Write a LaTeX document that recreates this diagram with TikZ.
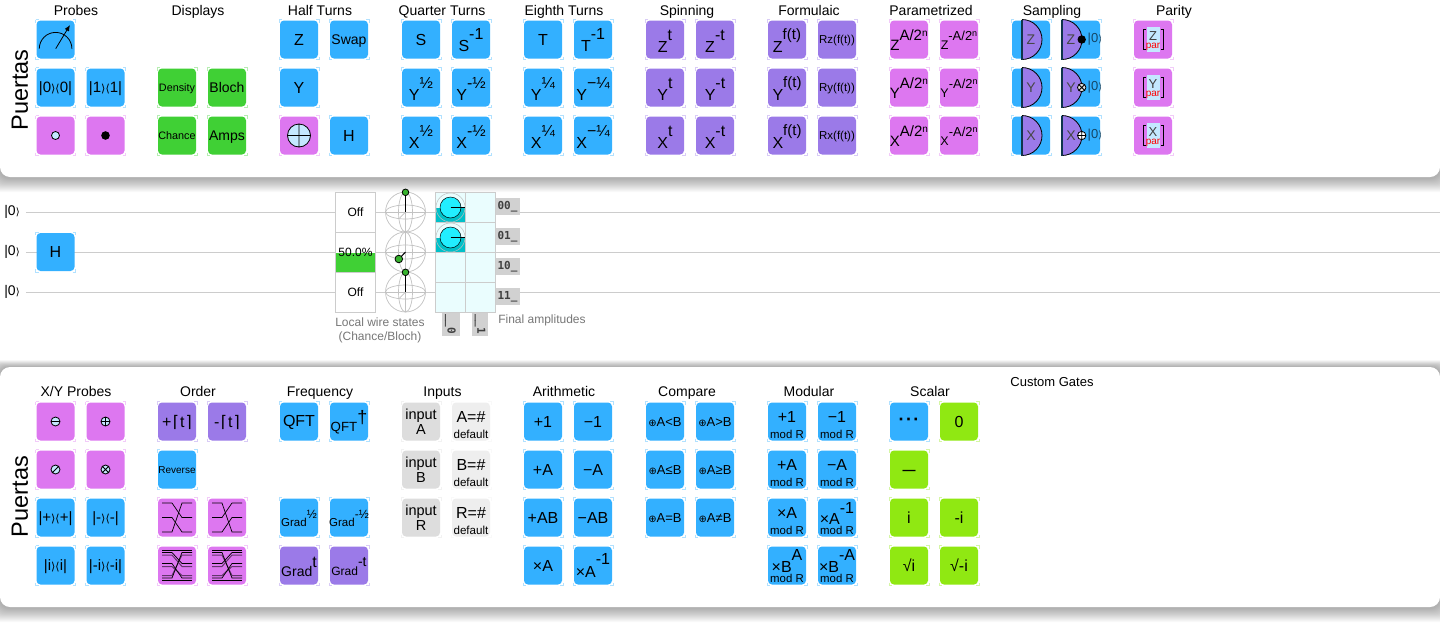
\documentclass[tikz,border=0pt]{standalone}
\usepackage{fontspec}
\setmainfont{Liberation Sans}
\newfontfamily\djv{DejaVu Sans}
\newfontfamily\djm{DejaVu Sans Mono}
\usetikzlibrary{arrows.meta}
\definecolor{gblue}{HTML}{33B0FF}
\definecolor{gmag}{HTML}{DD77F0}
\definecolor{gpur}{HTML}{9B7AE8}
\definecolor{ggrn}{HTML}{40D035}
\definecolor{glime}{HTML}{90E812}
\definecolor{ginA}{HTML}{DDDDDD}
\definecolor{ginB}{HTML}{EEEEEE}
\definecolor{ctl}{HTML}{C4E8FF}
\definecolor{wire}{HTML}{CCCCCC}
\definecolor{note}{HTML}{777777}
\definecolor{amp}{HTML}{EAFDFE}
\definecolor{teal}{HTML}{00C0C8}
\definecolor{cyn}{HTML}{22EEFF}
\newcommand\fs[1]{\fontsize{#1pt}{#1pt}\selectfont}
% centred text: size, baseline offset below centre, text
\newcommand\T[3]{\makebox[0pt][c]{\raisebox{-#2pt}[0pt][0pt]{\fs{#1}#3}}}
% base with superscript: basesize, base, supsize, sup, raise, baseline offset
\newcommand\SP[6]{\makebox[0pt][c]{\raisebox{-#6pt}[0pt][0pt]{\fs{#1}#2\raisebox{#5pt}{\fs{#3}#4}}}}
\newcommand\kt{{\djv\fs{11}⟩}}
\newcommand\br{{\djv\fs{11}⟨}}
\newcommand\oplusg{{\djv\fs{10}⊕}}
\newcommand\lc{{\djv\fs{16}\kern1.5pt⌈\kern1pt}}
\newcommand\rc{{\djv\fs{16}\kern1pt⌉}}
\tikzset{
  gatebox/.style={minimum size=38pt,inner sep=0pt,rounded corners=4pt,outer sep=0pt},
  gatetick/.style={line width=1pt,dash pattern=on 6pt off 34pt,dash phase=3pt},
  head/.style={anchor=base,font=\fs{14},inner sep=0pt},
  title/.style={rotate=90,font=\fs{23.5},inner sep=0pt},
  note/.style={font=\fs{12},text=note,inner sep=0pt,align=center},
  ctlc/.style={draw=black,fill=ctl,line width=.8pt},
  thinb/.style={line width=.7pt,draw=black},
  sph/.style={draw=black!24,line width=.7pt},
  cellb/.style={draw=wire,line width=.8pt,fill=white,minimum size=40pt,inner sep=0pt,font=\fs{12}},
  ampb/.style={draw=wire,line width=.8pt,fill=amp,minimum size=30pt,inner sep=0pt},
  lbl/.style={fill=black!18,inner sep=0pt,font=\djm\bfseries\fs{11},text=black!75},
  qlabel/.style={inner ysep=0pt,inner xsep=6pt,font=\fs{14}},
}
\newcommand\gate[5]{%
  \node[gatebox,fill=#4] (#1) at (#2,#3) {#5};
  \draw[gatetick,draw=#4!38!white] (#2-20,#3-20) rectangle (#2+20,#3+20);
}
% interleave wires
\newcommand\ilv[7]{% cx cy mirror(1/-1) y1 y2 y3 style
  \begin{scope}[shift={(#1,#2)},xscale=#3,thinb,#7]
    \draw (-15,#4) -- (-5,#4) -- (5,#5) -- (15,#5);
    \draw (-15,#5) -- (-5,#5) -- (5,#6) -- (15,#6);
    \draw (-15,#6) -- (-5,#6) -- (5,#4) -- (15,#4);
  \end{scope}}
\newcommand\samp[4]{% name cx cy letter
  \gate{#1}{#2}{#3}{gblue}{}
  \fill[gpur] (#2-9,#3-20) arc (-90:90:20) -- cycle;
  \draw[line width=.8pt] (#2-9,#3-20) arc (-90:90:20);
  \draw[line width=1.6pt,draw=black!70!gblue] (#2-9,#3-20) -- (#2-9,#3+20);
  \node[inner sep=0pt,font=\fs{14},text=black!72] (#1t) at (#2,#3) {#4};
}
\newcommand\sampb[4]{% name cx cy letter
  \gate{#1}{#2}{#3}{gblue}{}
  \fill[gpur] (#2-19,#3-20) arc (-90:90:20) -- cycle;
  \draw[line width=.8pt] (#2-19,#3-20) arc (-90:90:20);
  \draw[line width=1.6pt,draw=black!70!gblue] (#2-19,#3-20) -- (#2-19,#3+20);
  \node[inner sep=0pt,font=\fs{14},text=black!72] (#1t) at (#2-10,#3) {#4};
  \begin{scope}
    \clip (#2-19,#3-20) rectangle (#2+19.5,#3+20);
    \node[anchor=west,inner sep=0pt,font=\fs{13},text=black!60!gblue] (#1z) at (#2+6.5,#3) {|0{\djv\fs{10}⟩}};
  \end{scope}
}
\newcommand\parity[4]{% name cx cy letter
  \gate{#1}{#2}{#3}{gmag}{}
  \fill[ctl] (#2-6.5,#3-13) rectangle (#2+7,#3+12.5);
  \draw[line width=.9pt] (#2-7,#3-10) -- (#2-10,#3-10) -- (#2-10,#3+10) -- (#2-7,#3+10);
  \draw[line width=.9pt] (#2+7.5,#3-10) -- (#2+10.5,#3-10) -- (#2+10.5,#3+10) -- (#2+7.5,#3+10);
  \node[inner sep=0pt] (#1t) at (#2,#3) {\T{13}{1}{\color{black!75}#4}\T{10}{8.7}{\color{red}par}};
}
\newcommand\bloch[1]{% cy
  \begin{scope}[shift={(405.5,#1)}]
    \draw[sph] (0,0) circle (20);
    \draw[sph] (0,0) ellipse [x radius=20,y radius=7];
    \draw[sph] (0,0) ellipse [x radius=7,y radius=20];
    \draw[sph] (-20,0) -- (20,0);
    \draw[sph] (0,-20) -- (0,20);
    \draw[sph] (-6,6) -- (0,0);
  \end{scope}}
\newcommand\ampcirc[1]{% cy
  \begin{scope}[shift={(450.5,#1)}]
    \fill[teal] (-15,0) rectangle (15,15);
    \draw[draw=black!25,line width=.5pt] (0,0) circle (14.5);
    \fill[cyn] (0,0) circle (10.5);
    \draw[black,line width=.5pt] (0,0) circle (10.5);
    \draw[black,line width=.8pt] (0,0) -- (15,0);
  \end{scope}}
\begin{document}
\begin{tikzpicture}[x=1pt,y=-1pt]
\useasboundingbox (0,0) rectangle (1440,627);
\clip (0,0) rectangle (1440,627);
\fill[white] (0,0) rectangle (1440,627);
% shadows and panels
\foreach \d in {14,13,...,1}{
  \fill[black,opacity=.022,rounded corners=10pt] (-\d,-30) rectangle (1440+\d,177+\d+1);
  \fill[black,opacity=.022,rounded corners=10pt] (-\d,367-\d*.5) rectangle (1440+\d,607+\d+1);
}
\fill[white,rounded corners=10pt] (0,-30) rectangle (1440,177);
\fill[white,rounded corners=10pt] (0,367) rectangle (1440,607);

% ---------- circuit
\node[qlabel] (q1) at (12,212) {|0{\djv\fs{10}⟩}};
\node[qlabel] (q2) at (12,252) {|0{\djv\fs{10}⟩}};
\node[qlabel] (q3) at (12,292) {|0{\djv\fs{10}⟩}};
\coordinate (e1) at (1440,212);
\coordinate (e2) at (1440,252);
\coordinate (e3) at (1440,292);
\draw[wire,line width=.8pt] (q1) -- (e1);
\draw[wire,line width=.8pt] (q2) -- (e2);
\draw[wire,line width=.8pt] (q3) -- (e3);
\gate{hc}{55.5}{252}{gblue}{\T{16}{5.7}{H}}
% chance
\node[cellb] (c1) at (355.5,212.3) {\T{12}{4.3}{Off}};
\node[cellb] (c2) at (355.5,252.3) {};
\node[cellb] (c3) at (355.5,292.3) {\T{12}{4.3}{Off}};
\fill[ggrn] (336,252.7) rectangle (375,271.9);
\node[inner sep=0pt,font=\fs{12}] (c2t) at (355.5,252) {50.0\%};
% bloch
\bloch{212}\bloch{252}\bloch{292}
\draw[line width=1.6pt] (405.5,212) -- (405.5,192);
\draw[line width=.8pt,fill=ggrn!85!black] (405.5,192.3) circle (3.3);
\draw[line width=1pt] (405.5,252) -- (399,259);
\draw[line width=.8pt,fill=ggrn!85!black] (398.8,259) circle (3.8);
\draw[line width=1.6pt] (405.5,292) -- (405.5,272);
\draw[line width=.8pt,fill=ggrn!85!black] (405.5,272.3) circle (3.3);
% amplitudes
\foreach \r/\y in {0/207.5,1/237.5,2/267.5,3/297.5}{
  \node[ampb] (a\r0) at (450.5,\y) {};
  \node[ampb] (a\r1) at (480.5,\y) {};
}
\ampcirc{207.5}\ampcirc{237.5}
\draw[wire,line width=.8pt] (435.5,192.5) rectangle (495.5,312.5);
\draw[wire,line width=.8pt] (435.5,222.5) -- (495.5,222.5) (435.5,252.5) -- (495.5,252.5) (435.5,282.5) -- (495.5,282.5) (465.5,192.5) -- (465.5,312.5);
\foreach \n/\y/\t in {r0/206.5/00,r1/236.5/01,r2/266.5/10,r3/296.5/11}{
  \node[lbl,minimum width=24pt,minimum height=17.5pt] (\n) at (507.5,\y) {\t\_};
}
\node[lbl,rotate=-90,minimum width=23pt,minimum height=18pt] (k0) at (450.5,324.2) {\_\_0};
\node[lbl,rotate=-90,minimum width=23pt,minimum height=16pt] (k1) at (480,324.2) {\_\_1};
\node[note] (n1) at (380,330) {Local wire states\\[2pt](Chance/Bloch)};
\node[note] (n2) at (542,320.7) {Final amplitudes};

% ---------- top toolbox
\node[title] (p1) at (20,90) {Puertas};
\node[head] (h1) at (76,15) {Probes};
\node[head] (h2) at (198,15) {Displays};
\node[head] (h3) at (320,15) {Half Turns};
\node[head] (h4) at (442,15) {Quarter Turns};
\node[head] (h5) at (564,15) {Eighth Turns};
\node[head] (h6) at (687,15) {Spinning};
\node[head] (h7) at (809,15) {Formulaic};
\node[head] (h8) at (931,15) {Parametrized};
\node[head] (h9) at (1052,15) {Sampling};
\node[head] (h10) at (1174,15) {Parity};

\gate{meas}{55.5}{39.5}{gblue}{}
\draw[line width=.8pt] (39.3,48.7) arc (180:360:16.3);
\draw[line width=.8pt,-{Latex[length=6pt,width=5pt]}] (55.7,48.7) -- (70,25);
\gate{p0}{55.5}{87.5}{gblue}{\T{15}{5.3}{|0\kt\br 0|}}
\gate{p1g}{105.5}{87.5}{gblue}{\T{15}{5.3}{|1\kt\br 1|}}
\gate{ctlo}{55.5}{135.5}{gmag}{}
\draw[ctlc] (55.5,135.5) circle (4);
\gate{ctlb}{105.5}{135.5}{gmag}{}
\fill[black] (105.5,135.5) circle (4.3);

\gate{dDen}{177}{87.5}{ggrn}{\T{10.8}{3.8}{Density}}
\gate{dBlo}{227}{87.5}{ggrn}{\T{14}{5}{Bloch}}
\gate{dCha}{177}{135.5}{ggrn}{\T{10.8}{3.8}{Chance}}
\gate{dAmp}{227}{135.5}{ggrn}{\T{14}{5}{Amps}}

\gate{hZ}{299}{39.5}{gblue}{\T{16}{5.7}{Z}}
\gate{hS}{349}{39.5}{gblue}{\T{14}{5}{Swap}}
\gate{hY}{299}{87.5}{gblue}{\T{16}{5.7}{Y}}
\gate{hX}{299}{135.5}{gmag}{}
\draw[ctlc] (299,135.5) circle (11.5) (287.5,135.5) -- (310.5,135.5) (299,124) -- (299,147);
\gate{hH}{349}{135.5}{gblue}{\T{16}{5.7}{H}}

\gate{qS}{421}{39.5}{gblue}{\T{16}{5.7}{S}}
\gate{qSi}{471}{39.5}{gblue}{\SP{16}{S}{16}{-1}{11.7}{12}}
\gate{qY}{421}{87.5}{gblue}{\SP{16}{Y}{16}{½}{11.7}{12.5}}
\gate{qYi}{471}{87.5}{gblue}{\SP{16}{Y}{16}{-½}{11.7}{12.5}}
\gate{qX}{421}{135.5}{gblue}{\SP{16}{X}{16}{½}{11.7}{12.5}}
\gate{qXi}{471}{135.5}{gblue}{\SP{16}{X}{16}{-½}{11.7}{12.5}}

\gate{eT}{543}{39.5}{gblue}{\T{16}{5.7}{T}}
\gate{eTi}{593}{39.5}{gblue}{\SP{16}{T}{16}{-1}{11.7}{12}}
\gate{eY}{543}{87.5}{gblue}{\SP{16}{Y}{16}{¼}{11.7}{12.5}}
\gate{eYi}{593}{87.5}{gblue}{\SP{16}{Y}{16}{−¼}{11.7}{12.5}}
\gate{eX}{543}{135.5}{gblue}{\SP{16}{X}{16}{¼}{11.7}{12.5}}
\gate{eXi}{593}{135.5}{gblue}{\SP{16}{X}{16}{−¼}{11.7}{12.5}}

\gate{sZ}{665}{39.5}{gpur}{\SP{16}{Z}{16}{t}{12}{12.5}}
\gate{sZi}{715}{39.5}{gpur}{\SP{16}{Z}{16}{-t}{12}{12.5}}
\gate{sY}{665}{87.5}{gpur}{\SP{16}{Y}{16}{t}{12}{12.5}}
\gate{sYi}{715}{87.5}{gpur}{\SP{16}{Y}{16}{-t}{12}{12.5}}
\gate{sX}{665}{135.5}{gpur}{\SP{16}{X}{16}{t}{12}{12.5}}
\gate{sXi}{715}{135.5}{gpur}{\SP{16}{X}{16}{-t}{12}{12.5}}

\gate{fZ}{787}{39.5}{gpur}{\SP{16}{Z}{15}{f(t)}{13}{12.5}}
\gate{fRz}{837}{39.5}{gpur}{\T{11.5}{4}{Rz(f(t))}}
\gate{fY}{787}{87.5}{gpur}{\SP{16}{Y}{15}{f(t)}{13}{12.5}}
\gate{fRy}{837}{87.5}{gpur}{\T{11.5}{4}{Ry(f(t))}}
\gate{fX}{787}{135.5}{gpur}{\SP{16}{X}{15}{f(t)}{13}{12.5}}
\gate{fRx}{837}{135.5}{gpur}{\T{11.5}{4}{Rx(f(t))}}

\gate{aZ}{909}{39.5}{gmag}{\SP{15}{Z}{15}{A/2\raisebox{4pt}{\fs{10}n}}{10}{10.5}}
\gate{aZi}{959}{39.5}{gmag}{\SP{12.5}{Z}{13}{-A/2\raisebox{4pt}{\fs{9}n}}{9.3}{9.8}}
\gate{aY}{909}{87.5}{gmag}{\SP{15}{Y}{15}{A/2\raisebox{4pt}{\fs{10}n}}{10}{10.5}}
\gate{aYi}{959}{87.5}{gmag}{\SP{12.5}{Y}{13}{-A/2\raisebox{4pt}{\fs{9}n}}{9.3}{9.8}}
\gate{aX}{909}{135.5}{gmag}{\SP{15}{X}{15}{A/2\raisebox{4pt}{\fs{10}n}}{10}{10.5}}
\gate{aXi}{959}{135.5}{gmag}{\SP{12.5}{X}{13}{-A/2\raisebox{4pt}{\fs{9}n}}{9.3}{9.8}}

\samp{mZ}{1031}{39.5}{Z}
\sampb{mZb}{1081}{39.5}{Z}
\fill[black] (1081.7,39.5) circle (4.2);
\samp{mY}{1031}{87.5}{Y}
\sampb{mYb}{1081}{87.5}{Y}
\draw[ctlc,fill=black!12] (1081.7,87.5) circle (4.2) (1078.8,84.6) -- (1084.6,90.4) (1078.8,90.4) -- (1084.6,84.6);
\samp{mX}{1031}{135.5}{X}
\sampb{mXb}{1081}{135.5}{X}
\draw[ctlc,fill=white] (1081.7,135.5) circle (4.2) (1077.5,135.5) -- (1085.9,135.5) (1081.7,131.3) -- (1081.7,139.7);

\parity{rZ}{1153}{39.5}{Z}
\parity{rY}{1153}{87.5}{Y}
\parity{rX}{1153}{135.5}{X}

% ---------- bottom toolbox
\node[title] (p2) at (20,496.5) {Puertas};
\node[head] (b1) at (76,396.7) {X/Y Probes};
\node[head] (b2) at (198,396.7) {Order};
\node[head] (b3) at (320,396.7) {Frequency};
\node[head] (b4) at (442.5,396.7) {Inputs};
\node[head] (b5) at (564,396.7) {Arithmetic};
\node[head] (b6) at (687,396.7) {Compare};
\node[head] (b7) at (809,396.7) {Modular};
\node[head] (b8) at (930,396.7) {Scalar};
\node[head,font=\fs{13}] (b9) at (1052,386.7) {Custom Gates};

\gate{xm}{55.5}{421.5}{gmag}{}
\draw[ctlc] (55.5,421.5) circle (4.5) (51,421.5) -- (60,421.5);
\gate{xp}{105.5}{421.5}{gmag}{}
\draw[ctlc] (105.5,421.5) circle (4.5) (101,421.5) -- (110,421.5) (105.5,417) -- (105.5,426);
\gate{ys}{55.5}{469.5}{gmag}{}
\draw[ctlc] (55.5,469.5) circle (4.5) (52.3,472.7) -- (58.7,466.3);
\gate{yx}{105.5}{469.5}{gmag}{}
\draw[ctlc] (105.5,469.5) circle (4.5) (102.3,466.3) -- (108.7,472.7) (102.3,472.7) -- (108.7,466.3);
\gate{kp}{55.5}{517.5}{gblue}{\T{15}{5.3}{|+\kt\br +|}}
\gate{km}{105.5}{517.5}{gblue}{\T{15}{5.3}{|-\kt\br -|}}
\gate{ki}{55.5}{565.5}{gblue}{\T{15}{5.3}{|i\kt\br i|}}
\gate{kn}{105.5}{565.5}{gblue}{\T{15}{5.3}{|-i\kt\br -i|}}

\gate{oA}{177}{421.5}{gpur}{\T{16}{5.7}{+\lc t\rc}}
\gate{oB}{227}{421.5}{gpur}{\T{16}{5.7}{-\lc t\rc}}
\gate{oR}{177}{469.5}{gblue}{\T{10}{3.5}{Reverse}}
\gate{iA}{177}{517.5}{gmag}{}
\ilv{177}{517.5}{1}{-14.5}{0}{14.5}{}
\gate{iB}{227}{517.5}{gmag}{}
\ilv{227}{517.5}{-1}{-14.5}{0}{14.5}{}
\gate{iC}{177}{565.5}{gmag}{}
\draw[thinb] (162,550.5) -- (192,550.5) (162,580.5) -- (192,580.5);
\ilv{177}{565.5}{1}{-10.5}{1}{10}{line width=1pt,draw=black!55!gmag}
\ilv{177}{565.5}{1}{-13}{-2}{12.5}{}
\gate{iD}{227}{565.5}{gmag}{}
\draw[thinb] (212,550.5) -- (242,550.5) (212,580.5) -- (242,580.5);
\ilv{227}{565.5}{-1}{-10.5}{1}{10}{line width=1pt,draw=black!55!gmag}
\ilv{227}{565.5}{-1}{-13}{-2}{12.5}{}

\gate{fq}{299}{421.5}{gblue}{\T{16}{5.3}{QFT}}
\gate{fqi}{349}{421.5}{gblue}{\SP{13.3}{QFT}{18}{†}{8}{10}}
\gate{gh}{299}{517.5}{gblue}{\SP{11.5}{Grad}{12}{½}{7.3}{8.7}}
\gate{ghi}{349}{517.5}{gblue}{\SP{11.5}{Grad}{12}{-½}{7.3}{8.7}}
\gate{gt}{299}{565.5}{gpur}{\SP{14}{Grad}{16}{t}{9}{10.7}}
\gate{gti}{349}{565.5}{gpur}{\SP{12}{Grad}{14}{-t}{9}{9.7}}

\gate{inA}{421}{421.5}{ginA}{\T{14.5}{-1.7}{input}\T{14.5}{13}{A}}
\gate{deA}{471}{421.5}{ginB}{\T{16}{1}{A=\#}\T{11.6}{16.5}{default}}
\gate{inB}{421}{469.5}{ginA}{\T{14.5}{-1.7}{input}\T{14.5}{13}{B}}
\gate{deB}{471}{469.5}{ginB}{\T{16}{1}{B=\#}\T{11.6}{16.5}{default}}
\gate{inR}{421}{517.5}{ginA}{\T{14.5}{-1.7}{input}\T{14.5}{13}{R}}
\gate{deR}{471}{517.5}{ginB}{\T{16}{1}{R=\#}\T{11.6}{16.5}{default}}

\gate{a1}{543}{421.5}{gblue}{\T{16}{5.7}{+1}}
\gate{a2}{593}{421.5}{gblue}{\T{16}{5.7}{−1}}
\gate{a3}{543}{469.5}{gblue}{\T{16}{5.7}{+A}}
\gate{a4}{593}{469.5}{gblue}{\T{16}{5.7}{−A}}
\gate{a5}{543}{517.5}{gblue}{\T{16}{5.7}{+AB}}
\gate{a6}{593}{517.5}{gblue}{\T{16}{5.7}{−AB}}
\gate{a7}{543}{565.5}{gblue}{\T{16}{5.7}{×A}}
\gate{a8}{593}{565.5}{gblue}{\SP{16}{×A}{16}{-1}{13}{12}}

\gate{c1g}{665}{421.5}{gblue}{\T{13}{4.5}{\oplusg A<B}}
\gate{c2g}{715}{421.5}{gblue}{\T{13}{4.5}{\oplusg A>B}}
\gate{c3g}{665}{469.5}{gblue}{\T{13}{4.5}{\oplusg A≤B}}
\gate{c4g}{715}{469.5}{gblue}{\T{13}{4.5}{\oplusg A≥B}}
\gate{c5g}{665}{517.5}{gblue}{\T{13}{4.5}{\oplusg A=B}}
\gate{c6g}{715}{517.5}{gblue}{\T{13}{4.5}{\oplusg A≠B}}

\gate{m1}{787}{421.5}{gblue}{\T{16}{1}{+1}\T{11.4}{17}{mod R}}
\gate{m2}{837}{421.5}{gblue}{\T{16}{1}{−1}\T{11.4}{17}{mod R}}
\gate{m3}{787}{469.5}{gblue}{\T{16}{1}{+A}\T{11.4}{17}{mod R}}
\gate{m4}{837}{469.5}{gblue}{\T{16}{1}{−A}\T{11.4}{17}{mod R}}
\gate{m5}{787}{517.5}{gblue}{\T{16}{1}{×A}\T{11.4}{17}{mod R}}
\gate{m6}{837}{517.5}{gblue}{\SP{16}{×A}{16}{-1}{11.7}{7.3}\T{11.4}{17}{mod R}}
\gate{m7}{787}{565.5}{gblue}{\SP{16}{×B}{16}{A}{11.7}{7}\T{11.4}{17}{mod R}}
\gate{m8}{837}{565.5}{gblue}{\SP{16}{×B}{16}{-A}{11.7}{7}\T{11.4}{17}{mod R}}

\gate{s1}{909}{421.5}{gblue}{\T{18}{4}{\bfseries ·\kern1.5pt·\kern1.5pt·}}
\gate{s2}{959}{421.5}{glime}{\T{16}{5.7}{0}}
\gate{s3}{909}{469.5}{glime}{\T{13}{5}{\bfseries —}}
\gate{s4}{909}{517.5}{glime}{\T{16}{5.7}{i}}
\gate{s5}{959}{517.5}{glime}{\T{16}{5.7}{-i}}
\gate{s6}{909}{565.5}{glime}{\T{16}{5.7}{√i}}
\gate{s7}{959}{565.5}{glime}{\T{16}{5.7}{√-i}}
\end{tikzpicture}
\end{document}
